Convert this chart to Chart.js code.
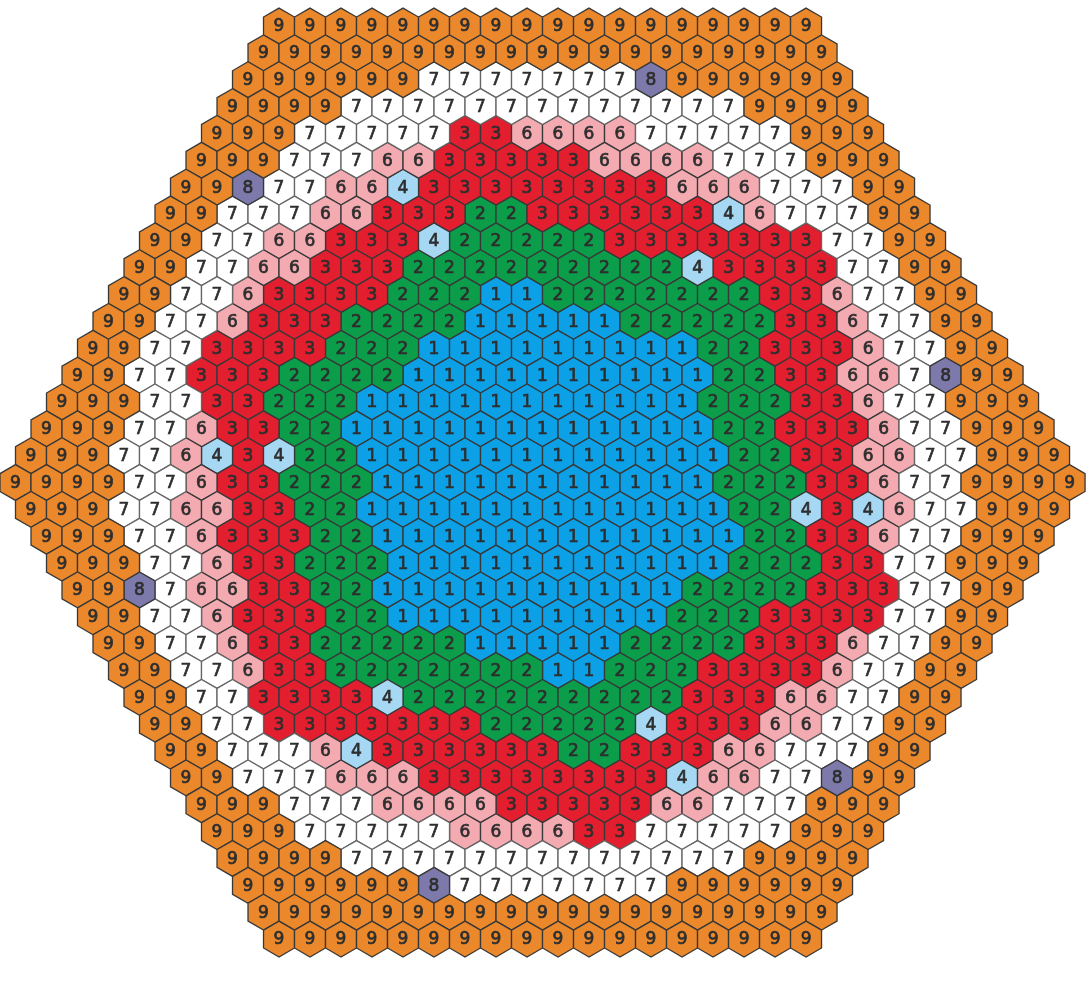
<!DOCTYPE html>
<html>
<head>
<meta charset="utf-8">
<title>Hex map</title>
<script src="https://cdn.jsdelivr.net/npm/chart.js@4.4.1/dist/chart.umd.min.js"></script>
<style>
  html, body { margin: 0; padding: 0; background: #fff; }
  #wrap { width: 1088px; height: 1000px; }
</style>
</head>
<body>
<div id="wrap"><canvas id="hexChart" width="1088" height="1000"></canvas></div>
<script>
'use strict';

// one string per row of the hex map, top to bottom, one digit per cell
const rows = [
  '999999999999999999',
  '9999999999999999999',
  '99999977777778999999',
  '999977777777777779999',
  '9997777733666677777999',
  '99977766333336666777999',
  '998776643333333366677799',
  '9977766333223333334677799',
  '99776633342222233333337799',
  '997766333222222222433337799',
  '9977633332221122222223367799',
  '99776333222211111222223367799',
  '997733332221111111112233367799',
  '9977333222211111111112233667899',
  '99977332221111111111122233677999',
  '999776332211111111111122333677999',
  '9997764342211111111111122336677999',
  '99997763322211111111111222336779999',
  '9997766332211111111111122434677999',
  '999776333221111111111112233677999',
  '99977633222111111111112223377999',
  '9987663322111111111122223337799',
  '997763332211111111122233337799',
  '99776332222211111222233367799',
  '9977633222222211222333367799',
  '997733334222222222333667799',
  '99773333333222224333667799',
  '9977764333333223336677799',
  '997776663333333346677899',
  '99977766663333366777999',
  '9997777766663377777999',
  '999977777777777779999',
  '99999987777777999999',
  '9999999999999999999',
  '999999999999999999'
];

const codes      = ['1', '2', '3', '4', '6', '7', '8', '9'];
const fillColors = ['#0ca0e6', '#0b9d4a', '#e31e2e', '#a6d8f4', '#f3aab1', '#ffffff', '#7d79ab', '#ea882b'];

const widest = 35; // cells in the middle row

// one scatter dataset per code, x in half-cell steps, y = row index
const datasets = codes.map((code, k) => {
  const pts = [];
  rows.forEach((row, r) => {
    const start = widest - row.length;
    for (let i = 0; i < row.length; i++) {
      if (row[i] === code) pts.push({ x: start + 2 * i, y: r });
    }
  });
  return {
    label: code,
    data: pts,
    backgroundColor: fillColors[k],
    pointRadius: 0,
    pointHoverRadius: 0
  };
});

// draws a pointy-top hexagon with its digit at every point of every dataset
const hexPlugin = {
  id: 'hexCells',
  afterDatasetsDraw(chart) {
    const ctx = chart.ctx;
    const xs = chart.scales.x;
    const cellW = xs.getPixelForValue(2) - xs.getPixelForValue(0);
    const R = cellW / Math.sqrt(3);

    ctx.save();
    chart.data.datasets.forEach((ds, di) => {
      const meta = chart.getDatasetMeta(di);
      meta.data.forEach(pt => {
        ctx.beginPath();
        for (let k = 0; k < 6; k++) {
          const a = Math.PI / 180 * (60 * k - 90);
          const px = pt.x + R * Math.cos(a);
          const py = pt.y + R * Math.sin(a);
          if (k === 0) ctx.moveTo(px, py); else ctx.lineTo(px, py);
        }
        ctx.closePath();
        ctx.fillStyle = ds.backgroundColor;
        ctx.fill();
        ctx.lineWidth = 1.3;
        ctx.strokeStyle = ds.label === '7' ? '#666666' : '#383838';
        ctx.stroke();
      });
    });

    // digits: normal weight, thickened a little with a thin stroke
    ctx.fillStyle = '#2e2e2e';
    ctx.strokeStyle = '#2e2e2e';
    ctx.lineWidth = 0.7;
    ctx.font = '17px "DejaVu Sans", sans-serif';
    ctx.textAlign = 'center';
    ctx.textBaseline = 'middle';
    chart.data.datasets.forEach((ds, di) => {
      const meta = chart.getDatasetMeta(di);
      meta.data.forEach(pt => {
        ctx.fillText(ds.label, pt.x, pt.y + 1);
        ctx.strokeText(ds.label, pt.x, pt.y + 1);
      });
    });
    ctx.restore();
  }
};

const ctx = document.getElementById('hexChart').getContext('2d');
new Chart(ctx, {
  type: 'scatter',
  data: { datasets: datasets },
  options: {
    responsive: false,
    animation: false,
    devicePixelRatio: 1,
    layout: { padding: 0 },
    plugins: {
      legend: { display: false },
      tooltip: { enabled: false }
    },
    events: [],
    scales: {
      x: { type: 'linear', min: -1, max: 69.19, display: false },
      y: { type: 'linear', min: -0.968, max: 36.27, reverse: true, display: false }
    }
  },
  plugins: [hexPlugin]
});
</script>
</body>
</html>
